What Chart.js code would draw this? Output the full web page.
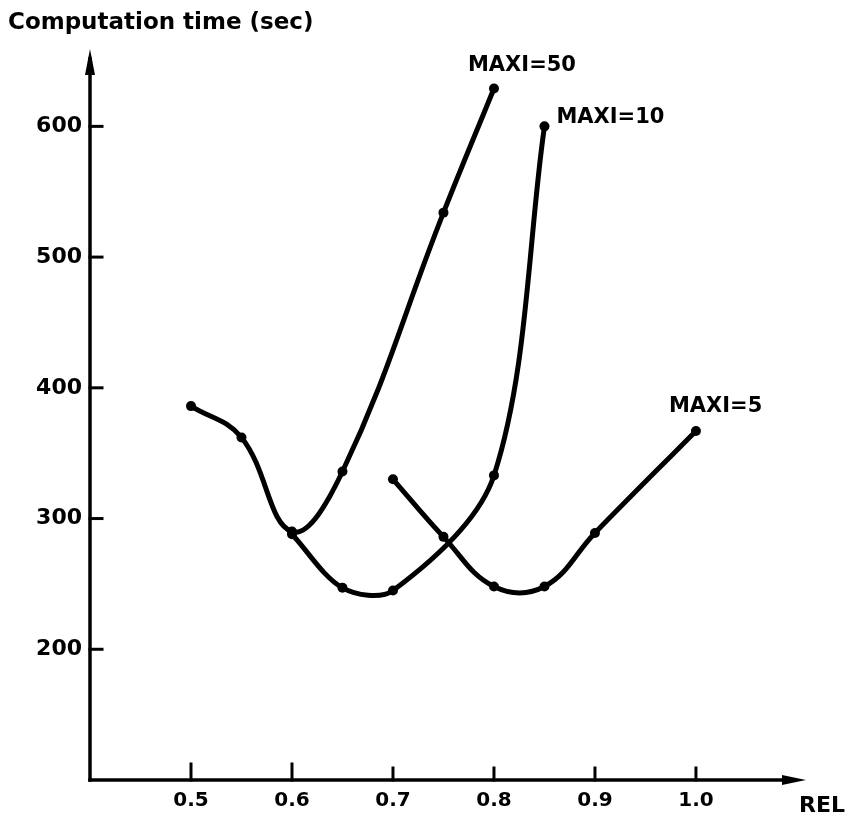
<!DOCTYPE html>
<html>
<head>
<meta charset="utf-8">
<title>Computation time vs REL</title>
<script src="https://cdn.jsdelivr.net/npm/chart.js@4.4.1/dist/chart.umd.min.js"></script>
<style>
    html, body { margin: 0; padding: 0; background: #fff; }
    canvas { display: block; }
</style>
</head>
<body>
<canvas id="chart" width="854" height="821"></canvas>
<script>
// Data
const maxi50Rel = [0.5, 0.55, 0.6, 0.65, 0.75, 0.8];
const maxi50Time = [386, 362, 290, 336, 534, 629];

const maxi10Rel = [0.6, 0.65, 0.7, 0.8, 0.85];
const maxi10Time = [288, 247, 245, 333, 600];

const maxi5Rel = [0.7, 0.75, 0.8, 0.85, 0.9, 1.0];
const maxi5Time = [330, 286, 248, 248, 289, 367];

const xTicks = [0.5, 0.6, 0.7, 0.8, 0.9, 1.0];
const yTicks = [200, 300, 400, 500, 600];

const seriesLabels = ['MAXI=50', 'MAXI=10', 'MAXI=5'];

const INK = '#000';
const FONT = '"DejaVu Sans", Arial, sans-serif';

const toPoints = (xs, ys) => xs.map((x, i) => ({ x: x, y: ys[i] }));

// where each series label sits, relative to the last point of its curve
const labelOffsets = [
    { dx: -26, dy: -23 },
    { dx: 12, dy: -9 },
    { dx: -27, dy: -24 }
];

const lineStyle = {
    borderColor: INK,
    backgroundColor: INK,
    borderWidth: 5,
    pointRadius: 5,
    pointBackgroundColor: INK,
    pointBorderWidth: 0,
    tension: 0.4,
    fill: false,
    clip: false
};

// axes with arrows, inward ticks, axis titles and curve labels
const figurePlugin = {
    id: 'figure',
    beforeDatasetsDraw(chart) {
        const ctx = chart.ctx;
        const xs = chart.scales.x;
        const ys = chart.scales.y;
        const x0 = xs.left;
        const y0 = ys.bottom;
        ctx.save();
        ctx.strokeStyle = INK;
        ctx.fillStyle = INK;
        ctx.lineWidth = 3.5;
        ctx.lineCap = 'square';

        // y axis
        ctx.beginPath();
        ctx.moveTo(x0, y0);
        ctx.lineTo(x0, ys.top - 2);
        ctx.stroke();
        ctx.beginPath();
        ctx.moveTo(x0, ys.top - 12);
        ctx.lineTo(x0 - 5, ys.top + 14);
        ctx.lineTo(x0 + 5, ys.top + 14);
        ctx.closePath();
        ctx.fill();

        // x axis
        ctx.beginPath();
        ctx.moveTo(x0, y0);
        ctx.lineTo(xs.right - 10, y0);
        ctx.stroke();
        ctx.beginPath();
        ctx.moveTo(xs.right + 4, y0);
        ctx.lineTo(xs.right - 20, y0 - 5);
        ctx.lineTo(xs.right - 20, y0 + 5);
        ctx.closePath();
        ctx.fill();

        // inward tick marks
        ctx.lineWidth = 3;
        yTicks.forEach(v => {
            const py = ys.getPixelForValue(v);
            ctx.beginPath();
            ctx.moveTo(x0, py);
            ctx.lineTo(x0 + 12, py);
            ctx.stroke();
        });
        xTicks.forEach((v, i) => {
            const px = xs.getPixelForValue(v);
            ctx.beginPath();
            ctx.moveTo(px, y0);
            ctx.lineTo(px, y0 - (i < 2 ? 16 : 12));
            ctx.stroke();
        });
        ctx.restore();
    },
    afterDraw(chart) {
        const ctx = chart.ctx;
        ctx.save();
        ctx.fillStyle = INK;
        ctx.textBaseline = 'middle';
        ctx.textAlign = 'left';

        ctx.font = 'bold 23px ' + FONT;
        ctx.fillText('Computation time (sec)', 8, 23);

        ctx.font = 'bold 22px ' + FONT;
        ctx.fillText('REL', 799, 806);

        ctx.font = 'bold 21px ' + FONT;
        chart.data.datasets.forEach((ds, i) => {
            const pts = chart.getDatasetMeta(i).data;
            const last = pts[pts.length - 1];
            const off = labelOffsets[i];
            ctx.fillText(ds.label, last.x + off.dx, last.y + off.dy);
        });
        ctx.restore();
    }
};

const ctx = document.getElementById('chart').getContext('2d');
new Chart(ctx, {
    type: 'line',
    data: {
        datasets: [
            Object.assign({ label: seriesLabels[0], data: toPoints(maxi50Rel, maxi50Time) }, lineStyle),
            Object.assign({ label: seriesLabels[1], data: toPoints(maxi10Rel, maxi10Time) }, lineStyle, { tension: 0.32 }),
            Object.assign({ label: seriesLabels[2], data: toPoints(maxi5Rel, maxi5Time) }, lineStyle)
        ]
    },
    options: {
        responsive: false,
        animation: false,
        events: [],
        layout: { padding: { top: 61, right: 52, left: 0, bottom: 0 } },
        plugins: {
            legend: { display: false },
            tooltip: { enabled: false },
            title: { display: false }
        },
        scales: {
            x: {
                type: 'linear',
                min: 0.4,
                max: 1.105,
                grid: { display: false, drawTicks: false },
                border: { display: false },
                afterBuildTicks: scale => { scale.ticks = xTicks.map(v => ({ value: v })); },
                afterFit: scale => { scale.height = 41; },
                ticks: {
                    color: INK,
                    padding: 9,
                    maxRotation: 0,
                    autoSkip: false,
                    font: { family: FONT, size: 20, weight: 'bold' },
                    callback: v => v.toFixed(1)
                }
            },
            y: {
                type: 'linear',
                min: 100,
                max: 650,
                grid: { display: false, drawTicks: false },
                border: { display: false },
                afterBuildTicks: scale => { scale.ticks = yTicks.map(v => ({ value: v })); },
                afterFit: scale => { scale.width = 90; },
                ticks: {
                    color: INK,
                    padding: 8,
                    autoSkip: false,
                    font: { family: FONT, size: 22, weight: 'bold' },
                    callback: v => String(v)
                }
            }
        }
    },
    plugins: [figurePlugin]
});
</script>
</body>
</html>
